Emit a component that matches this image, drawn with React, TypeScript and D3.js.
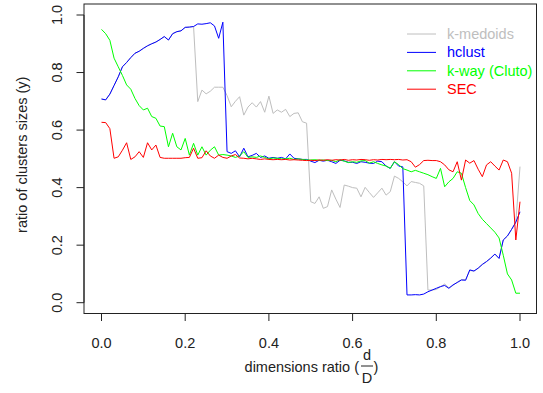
import React from "react";
import * as d3 from "d3";

const xValues: number[] = d3.range(0, 101).map((i) => i / 100);

const hclust: number[] = [
  0.708, 0.705, 0.725, 0.755, 0.785, 0.82, 0.835, 0.852, 0.867, 0.874,
  0.884, 0.893, 0.9, 0.906, 0.915, 0.925, 0.913, 0.935, 0.942, 0.945,
  0.957, 0.958, 0.96, 0.969, 0.968, 0.97, 0.973, 0.962, 0.919, 0.975,
  0.525, 0.519, 0.528, 0.507, 0.537, 0.507, 0.512, 0.519, 0.505, 0.51,
  0.502, 0.505, 0.502, 0.505, 0.5, 0.517, 0.502, 0.5, 0.498, 0.498,
  0.492, 0.487, 0.495, 0.492, 0.495, 0.49, 0.484, 0.495, 0.493, 0.488,
  0.488, 0.484, 0.49, 0.488, 0.485, 0.484, 0.492, 0.49, 0.475, 0.467,
  0.49, 0.475, 0.472, 0.027, 0.027, 0.028, 0.027, 0.03, 0.038, 0.044,
  0.05, 0.056, 0.06, 0.05, 0.062, 0.07, 0.079, 0.078, 0.114, 0.11,
  0.12, 0.133, 0.143, 0.155, 0.169, 0.154, 0.218, 0.232, 0.255, 0.28,
  0.316,
];

const kmedoids: number[] = [
  0.708, 0.705, 0.725, 0.755, 0.785, 0.82, 0.835, 0.852, 0.867, 0.874,
  0.884, 0.893, 0.9, 0.906, 0.915, 0.925, 0.913, 0.935, 0.942, 0.945,
  0.957, 0.958, 0.96, 0.699, 0.739, 0.726, 0.735, 0.749, 0.749, 0.749,
  0.72, 0.681, 0.7, 0.716, 0.652, 0.68, 0.695, 0.68, 0.699, 0.662,
  0.718, 0.658, 0.67, 0.662, 0.672, 0.647, 0.658, 0.66, 0.629, 0.624,
  0.351, 0.345, 0.368, 0.328, 0.334, 0.392, 0.36, 0.331, 0.409, 0.405,
  0.4, 0.398, 0.368, 0.401, 0.383, 0.366, 0.382, 0.398, 0.374, 0.386,
  0.44, 0.432, 0.42, 0.406, 0.421, 0.418, 0.415, 0.406, 0.044, 0.044,
  0.046, 0.055, 0.065, 0.052, 0.06, 0.072, 0.08, 0.08, 0.112, 0.11,
  0.12, 0.133, 0.143, 0.155, 0.169, 0.154, 0.218, 0.232, 0.255, 0.28,
  0.473,
];

const kway: number[] = [
  0.95, 0.935, 0.912, 0.85, 0.82, 0.79, 0.757, 0.742, 0.71, 0.685,
  0.67, 0.676, 0.647, 0.641, 0.614, 0.612, 0.542, 0.589, 0.542, 0.531,
  0.571, 0.513, 0.554, 0.513, 0.542, 0.513, 0.53, 0.542, 0.513, 0.515,
  0.513, 0.51, 0.505, 0.51, 0.525, 0.505, 0.507, 0.505, 0.51, 0.505,
  0.5, 0.503, 0.502, 0.5, 0.5, 0.502, 0.498, 0.5, 0.498, 0.496,
  0.496, 0.497, 0.495, 0.496, 0.494, 0.495, 0.49, 0.497, 0.492, 0.487,
  0.49, 0.488, 0.493, 0.494, 0.485, 0.49, 0.484, 0.479, 0.475, 0.467,
  0.49, 0.48, 0.466, 0.461, 0.455, 0.46, 0.455, 0.45, 0.445, 0.438,
  0.432, 0.467, 0.403, 0.42, 0.432, 0.455, 0.45, 0.4, 0.355, 0.34,
  0.31, 0.29, 0.275, 0.26, 0.245, 0.225, 0.165, 0.1, 0.079, 0.033,
  0.033,
];

const sec: number[] = [
  0.627, 0.626, 0.605, 0.502, 0.507, 0.53, 0.556, 0.498, 0.507, 0.525,
  0.505, 0.556, 0.531, 0.548, 0.505, 0.502, 0.502, 0.502, 0.502, 0.502,
  0.504, 0.505, 0.537, 0.502, 0.504, 0.528, 0.51, 0.502, 0.513, 0.505,
  0.502, 0.51, 0.515, 0.503, 0.502, 0.5, 0.502, 0.5, 0.498, 0.5,
  0.498, 0.497, 0.498, 0.497, 0.498, 0.496, 0.497, 0.496, 0.495, 0.494,
  0.495, 0.494, 0.496, 0.495, 0.497, 0.495, 0.497, 0.496, 0.498, 0.495,
  0.497, 0.496, 0.498, 0.497, 0.495, 0.497, 0.496, 0.498, 0.497, 0.498,
  0.497, 0.498, 0.496, 0.497, 0.49, 0.471, 0.48, 0.494, 0.495, 0.494,
  0.494, 0.49, 0.479, 0.462, 0.455, 0.49, 0.426, 0.496, 0.485, 0.494,
  0.464, 0.438, 0.479, 0.49, 0.475, 0.461, 0.496, 0.49, 0.45, 0.218,
  0.351,
];

const seriesNames: string[] = ["k-medoids", "hclust", "k-way (Cluto)", "SEC"];
const seriesColors: string[] = ["#BEBEBE", "#0000FF", "#00FF00", "#FF0000"];
const seriesData: number[][] = [kmedoids, hclust, kway, sec];

const xTicks: number[] = [0, 0.2, 0.4, 0.6, 0.8, 1.0];
const yTicks: number[] = [0, 0.2, 0.4, 0.6, 0.8, 1.0];

const W = 543;
const H = 393;
const box = { left: 84, right: 536.5, top: 4, bottom: 313.5 };
const FONT = "'Liberation Sans', Arial, sans-serif";
const FS = 14.5;

export default function App() {
  const x = d3.scaleLinear().domain([0, 1]).range([101.5, 520]);
  const y = d3.scaleLinear().domain([0, 1]).range([302.7, 15]);
  const line = d3
    .line<[number, number]>()
    .x((d) => x(d[0]))
    .y((d) => y(d[1]));

  const axisColor = "#222";
  const tickLen = 7.5;

  return (
    <svg
      width={W}
      height={H}
      style={{ position: "absolute", left: 0, top: 0, background: "#fff" }}
      fontFamily={FONT}
    >
      <rect x={0} y={0} width={W} height={H} fill="#fff" />
      {seriesData.map((vals, si) => (
        <path
          key={seriesNames[si]}
          d={line(vals.map((v, i) => [xValues[i], v] as [number, number])) || ""}
          fill="none"
          stroke={seriesColors[si]}
          strokeWidth={1}
        />
      ))}
      <rect
        x={box.left}
        y={box.top}
        width={box.right - box.left}
        height={box.bottom - box.top}
        fill="none"
        stroke={axisColor}
        strokeWidth={1}
      />
      {/* x axis */}
      <line x1={x(0)} x2={x(1)} y1={box.bottom} y2={box.bottom} stroke={axisColor} />
      {xTicks.map((t) => (
        <g key={"x" + t}>
          <line x1={x(t)} x2={x(t)} y1={box.bottom} y2={box.bottom + tickLen} stroke={axisColor} />
          <text x={x(t)} y={348} textAnchor="middle" fontSize={FS} fill="#222">
            {t.toFixed(1)}
          </text>
        </g>
      ))}
      {/* y axis */}
      <line x1={box.left} x2={box.left} y1={y(0)} y2={y(1)} stroke={axisColor} />
      {yTicks.map((t) => (
        <g key={"y" + t}>
          <line x1={box.left} x2={box.left - tickLen} y1={y(t)} y2={y(t)} stroke={axisColor} />
          <text
            transform={`translate(62,${y(t)}) rotate(-90)`}
            textAnchor="middle"
            fontSize={FS}
            fill="#222"
          >
            {t.toFixed(1)}
          </text>
        </g>
      ))}
      {/* axis titles */}
      <text
        transform={`translate(27,${(box.top + box.bottom) / 2 - 4}) rotate(-90)`}
        textAnchor="middle"
        fontSize={FS}
        fill="#222"
      >
        ratio of clusters sizes (y)
      </text>
      <text x={359} y={372} textAnchor="end" fontSize={FS} fill="#222">
        dimensions ratio (
      </text>
      <text x={367} y={359.5} textAnchor="middle" fontSize={FS} fill="#222">
        d
      </text>
      <line x1={361} x2={373} y1={366} y2={366} stroke="#222" strokeWidth={1} />
      <text x={367} y={383} textAnchor="middle" fontSize={FS} fill="#222">
        D
      </text>
      <text x={373.5} y={372} textAnchor="start" fontSize={FS} fill="#222">
        )
      </text>
      {/* legend */}
      {seriesNames.map((name, i) => {
        const ly = 34 + i * 18.4;
        return (
          <g key={"leg" + name}>
            <line x1={407} x2={436} y1={ly} y2={ly} stroke={seriesColors[i]} strokeWidth={1} />
            <text x={447} y={ly + 5} fontSize={FS} fill={seriesColors[i]}>
              {name}
            </text>
          </g>
        );
      })}
    </svg>
  );
}
